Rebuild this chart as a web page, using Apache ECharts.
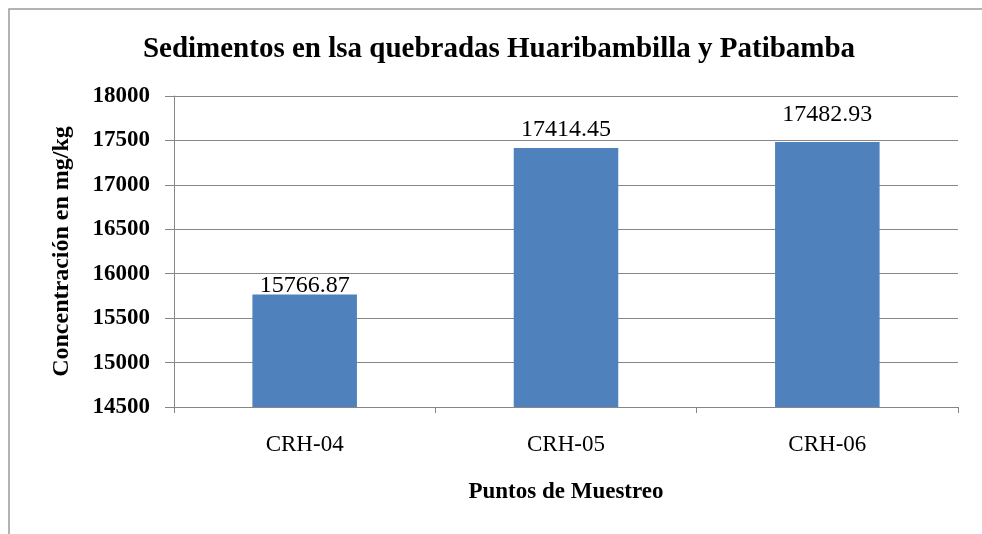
<!DOCTYPE html>
<html>
<head>
<meta charset="utf-8">
<script src="https://cdn.jsdelivr.net/npm/echarts@6/dist/echarts.min.js"></script>
<style>
html,body{margin:0;padding:0;background:#fff;}
#c{width:982px;height:534px;}
</style>
</head>
<body>
<div id="c"></div>
<script>
var categories = ['CRH-04', 'CRH-05', 'CRH-06'];
var values = [15766.87, 17414.45, 17482.93];
var labelTexts = ['15766.87', '17414.45', '17482.93'];
var yMin = 14500, yMax = 18000, yStep = 500;

var titleText = 'Sedimentos en lsa quebradas Huaribambilla y Patibamba';
var xName = 'Puntos de Muestreo';
var yName = 'Concentración en mg/kg';

// label offsets above bars (style, not data)
var labelGaps = [-3, 6, 15];

var FONT = '"Liberation Serif", "DejaVu Serif", serif';
var chart = echarts.init(document.getElementById('c'), null, {renderer: 'canvas'});

var seriesData = values.map(function (v, i) {
  return {
    value: v,
    label: {distance: labelGaps[i], formatter: labelTexts[i]}
  };
});

chart.setOption({
  backgroundColor: '#ffffff',
  animation: false,
  title: {
    text: titleText,
    left: 494,
    top: 30,
    textAlign: 'center',
    textStyle: {fontFamily: FONT, fontWeight: 'bold', fontSize: 29, color: '#000'}
  },
  graphic: [{
    type: 'rect',
    shape: {x: 9, y: 9, width: 1100, height: 700},
    style: {fill: 'none', stroke: '#9a9a9a', lineWidth: 1.5},
    silent: true
  }],
  grid: {left: 174, right: 24, top: 96, bottom: 127, containLabel: false},
  xAxis: {
    type: 'category',
    data: categories,
    name: xName,
    nameLocation: 'middle',
    nameGap: 74,
    nameTextStyle: {fontFamily: FONT, fontWeight: 'bold', fontSize: 23, color: '#000'},
    axisLine: {show: true, lineStyle: {color: '#868686', width: 1}},
    axisTick: {show: true, length: 6, lineStyle: {color: '#868686'}},
    axisLabel: {fontFamily: FONT, fontSize: 23, color: '#000', margin: 26}
  },
  yAxis: {
    type: 'value',
    min: yMin,
    max: yMax,
    interval: yStep,
    name: yName,
    nameLocation: 'middle',
    nameGap: 100,
    nameTextStyle: {fontFamily: FONT, fontWeight: 'bold', fontSize: 24, color: '#000'},
    axisLine: {show: true, lineStyle: {color: '#868686', width: 1}},
    axisTick: {show: true, length: 9, lineStyle: {color: '#868686'}},
    splitLine: {show: true, lineStyle: {color: '#868686', width: 1}},
    axisLabel: {
      fontFamily: FONT, fontWeight: 'bold', fontSize: 23, color: '#000', margin: 24,
      formatter: function (v) { return String(v); }
    }
  },
  series: [{
    type: 'bar',
    data: seriesData,
    barWidth: '40%',
    itemStyle: {color: '#4F81BD'},
    label: {
      show: true,
      position: 'top',
      fontFamily: FONT,
      fontSize: 24,
      color: '#000'
    }
  }]
});
</script>
</body>
</html>
